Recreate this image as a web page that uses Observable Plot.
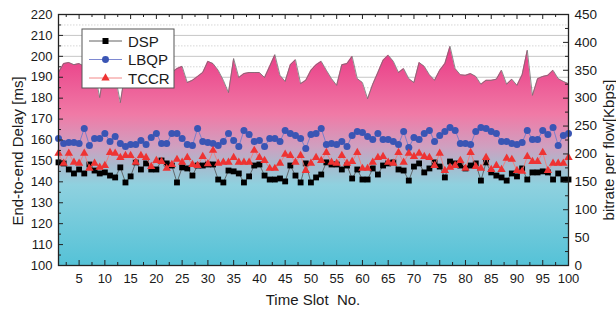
<!DOCTYPE html>
<html><head><meta charset="utf-8">
<script src="https://cdn.jsdelivr.net/npm/d3@7"></script>
<script src="https://cdn.jsdelivr.net/npm/@observablehq/plot@0.6"></script>
<style>
body{margin:0;background:#fff;}
#chart{position:relative;width:616px;height:311px;}
</style></head><body><div id="chart"></div>
<script>
// ---- data ----
const slots = d3.range(1, 101);
const bitrate = [
346,362,364,360,362,357,360,350,301,357,
360,341,292,350,353,357,364,359,362,368,
364,357,346,353,357,328,332,339,346,366,
362,350,332,310,371,337,344,346,346,346,
337,357,378,341,330,360,369,326,332,350,
360,366,350,335,323,360,362,375,335,328,
299,325,346,368,377,366,346,353,335,328,
364,357,342,332,350,362,393,353,342,341,
344,339,325,332,332,334,350,325,334,323,
342,386,305,335,339,341,350,335,330,326];
const dsp = [
149.3,148.8,145.9,144.0,145.9,144.0,148.3,145.4,144.0,144.5,
143.0,142.1,146.9,139.7,142.6,149.3,145.9,148.8,145.9,145.9,
150.2,148.8,147.8,139.7,146.9,146.4,143.0,147.8,147.8,148.3,
148.3,141.1,139.7,145.4,145.0,144.0,139.7,142.6,147.8,148.3,
143.0,141.1,141.1,141.6,140.2,147.8,143.0,139.7,148.8,139.7,
142.1,143.5,149.3,148.3,148.3,145.9,147.8,141.6,145.9,141.1,
141.1,146.4,143.5,147.8,148.8,149.3,145.9,145.4,140.6,147.3,
148.8,144.5,146.4,149.3,147.3,142.1,149.7,148.8,147.8,146.4,
147.8,148.8,140.6,149.3,144.5,143.0,142.1,140.6,144.0,142.6,
146.4,141.1,144.5,144.5,145.0,144.5,141.1,144.0,141.1,141.1];
const lbqp = [
160.7,158.3,158.8,158.8,158.3,165.5,157.4,160.7,160.7,163.1,
159.3,161.7,158.3,156.9,157.9,157.9,159.8,157.9,161.2,163.1,
158.3,158.3,163.1,163.1,160.7,157.9,157.4,165.5,159.3,158.8,
158.3,157.4,159.3,163.1,159.8,156.9,164.6,162.6,159.3,159.8,
156.9,160.7,160.7,159.3,164.6,163.1,162.2,160.7,155.9,162.6,
163.1,165.5,157.9,158.3,157.9,159.3,156.9,162.2,164.1,163.6,
161.7,160.2,163.1,160.2,160.2,159.3,157.9,164.1,156.4,161.2,
160.2,163.1,164.6,159.3,162.2,164.1,166.0,164.6,158.3,158.3,
157.9,164.1,166.0,165.5,164.1,163.1,159.3,159.3,158.3,157.9,
158.8,164.6,160.2,160.2,164.6,162.6,166.0,157.4,162.2,163.1];
const tccr = [
153.6,148.8,153.6,149.3,148.8,153.6,146.4,148.8,146.9,147.8,
154.0,153.6,151.6,152.6,152.6,149.3,152.6,151.6,147.3,150.2,
149.7,146.4,148.3,150.7,149.3,151.6,148.3,147.8,152.1,148.6,
155.0,148.8,149.3,149.3,151.6,149.3,149.3,149.3,155.0,151.6,
150.2,146.4,146.4,148.8,153.1,152.6,149.3,152.6,145.4,148.8,
151.6,150.2,154.0,149.3,148.8,152.6,148.8,149.7,154.0,146.4,
146.4,149.3,151.6,152.1,149.3,148.8,154.0,149.3,153.6,152.1,
153.6,152.1,151.6,147.8,153.6,145.4,146.9,147.8,150.2,146.4,
154.0,147.3,146.4,151.6,145.9,147.8,145.9,151.2,150.7,145.4,
145.0,152.1,149.7,149.7,154.0,145.4,148.8,148.8,148.8,151.6];

const leftTicks = d3.range(100, 221, 10);
const leftMinor = d3.range(105, 220, 10);
const xTicks = d3.range(5, 101, 5);
const xMinor = d3.range(2.5, 100, 5);
const rightTicks = d3.range(0, 451, 50);
const rightMinor = d3.range(25, 450, 50);
const seriesNames = ["DSP", "LBQP", "TCCR"];

// right axis (bitrate 0..450) mapped onto left delay scale (100..220)
const toLeft = v => 100 + v * 120 / 450;

const W = 616, H = 311, mt = 14, mb = 46, ml = 58, mr = 48;
const ph = H - mt - mb, pw = W - ml - mr;

const rows = slots.map((t, i) => ({t, bit: toLeft(bitrate[i]), dsp: dsp[i], lbqp: lbqp[i], tccr: tccr[i]}));
const axisColor = "#222";

const plot = Plot.plot({
  width: W, height: H, marginTop: mt, marginBottom: mb, marginLeft: ml, marginRight: mr,
  style: {fontFamily: "'Liberation Sans', Arial, sans-serif", fontSize: "13px", color: "#1a1a1a", background: "#fff"},
  x: {domain: [1, 100], ticks: xTicks, tickSize: 0, tickPadding: 8, label: null},
  y: {domain: [100, 220], ticks: leftTicks, tickSize: 0, tickPadding: 6, label: null},
  marks: [
    Plot.ruleY(leftMinor, {stroke: "#d6d6d6", strokeDasharray: "1.5,1.5"}),
    Plot.ruleY(leftTicks, {stroke: "#c6c6c6"}),
    Plot.areaY(rows, {x: "t", y1: 100, y2: "bit", fill: "url(#bitgrad)"}),
    Plot.lineY(rows, {x: "t", y: "bit", stroke: "#707070", strokeWidth: 0.8}),
    Plot.lineY(rows, {x: "t", y: "dsp", stroke: "#505050", strokeWidth: 0.8}),
    Plot.dot(rows, {x: "t", y: "dsp", symbol: "square", r: 3.3, fill: "#000"}),
    Plot.lineY(rows, {x: "t", y: "lbqp", stroke: "#6f7ccc", strokeWidth: 0.9}),
    Plot.dot(rows, {x: "t", y: "lbqp", symbol: "circle", r: 3.5, fill: "#3a55b4"}),
    Plot.lineY(rows, {x: "t", y: "tccr", stroke: "#f07a7a", strokeWidth: 0.9}),
    Plot.dot(rows, {x: "t", y: "tccr", symbol: "triangle", r: 3.1, fill: "#ee3333"}),
    // inward ticks
    Plot.tickX(xTicks, {x: d => d, insetTop: ph - 5, stroke: axisColor}),
    Plot.tickX(xMinor, {x: d => d, insetTop: ph - 3, stroke: axisColor}),
    Plot.tickX(xTicks, {x: d => d, insetBottom: ph - 5, stroke: axisColor}),
    Plot.tickX(xMinor, {x: d => d, insetBottom: ph - 3, stroke: axisColor}),
    Plot.tickY(leftTicks, {y: d => d, insetRight: pw - 5, stroke: axisColor}),
    Plot.tickY(leftMinor, {y: d => d, insetRight: pw - 3, stroke: axisColor}),
    Plot.tickY(rightTicks, {y: d => toLeft(d), insetLeft: pw - 5, stroke: axisColor}),
    Plot.tickY(rightMinor, {y: d => toLeft(d), insetLeft: pw - 3, stroke: axisColor}),
    Plot.frame({stroke: axisColor, strokeWidth: 1.3}),
    Plot.text(rightTicks, {y: d => toLeft(d), text: d => String(d), frameAnchor: "right", dx: 6, textAnchor: "start", fontSize: 13.5, fill: "#1a1a1a"})
  ]
});
document.getElementById("chart").appendChild(plot);

const svg = d3.select(plot);
svg.insert("defs", ":first-child").html(`
<linearGradient id="bitgrad" gradientUnits="userSpaceOnUse" x1="0" y1="${mt}" x2="0" y2="${H - mb}">
  <stop offset="0" stop-color="#e62e7e"/>
  <stop offset="0.17" stop-color="#ea4189"/>
  <stop offset="0.40" stop-color="#f07aa6"/>
  <stop offset="0.53" stop-color="#cfa0c0"/>
  <stop offset="0.60" stop-color="#a9b9cd"/>
  <stop offset="0.68" stop-color="#8fd1df"/>
  <stop offset="1" stop-color="#55c2d7"/>
</linearGradient>`);

const fontFam = "'Liberation Sans', Arial, sans-serif";
// axis titles
svg.append("text").attr("transform", "translate(23,151) rotate(-90)")
  .attr("text-anchor", "middle").attr("font-family", fontFam).attr("font-size", 15).attr("fill", "#1a1a1a")
  .text("End-to-end Delay [ms]");
svg.append("text").attr("transform", "translate(614,150) rotate(-90)")
  .attr("text-anchor", "middle").attr("font-family", fontFam).attr("font-size", 15).attr("fill", "#1a1a1a")
  .text("bitrate per flow[Kbps]");
svg.append("text").attr("x", 313).attr("y", 305)
  .attr("text-anchor", "middle").attr("font-family", fontFam).attr("font-size", 15).attr("fill", "#1a1a1a")
  .attr("xml:space", "preserve").style("white-space", "pre")
  .text("Time Slot  No.");

// legend
const lg = svg.append("g").attr("text-anchor", "start");
lg.append("rect").attr("x", 82).attr("y", 29).attr("width", 92).attr("height", 59)
  .attr("fill", "#fff").attr("stroke", "#555").attr("stroke-width", 1);
const lineCols = ["#505050", "#6f7ccc", "#f07a7a"];
const markCols = ["#000", "#3a55b4", "#ee3333"];
const syms = [d3.symbolSquare, d3.symbolCircle, d3.symbolTriangle];
const sizes = [36, 38, 30];
seriesNames.forEach((name, i) => {
  const y = 41 + i * 18.5;
  lg.append("line").attr("x1", 89).attr("x2", 122).attr("y1", y).attr("y2", y)
    .attr("stroke", lineCols[i]).attr("stroke-width", 0.9);
  lg.append("path").attr("transform", `translate(105.5,${y})`)
    .attr("d", d3.symbol(syms[i], sizes[i])()).attr("fill", markCols[i]);
  lg.append("text").attr("x", 128).attr("y", y + 5.5).attr("text-anchor", "start").attr("font-family", fontFam)
    .attr("font-size", 15).attr("fill", "#1a1a1a").text(name);
});
</script>
</body></html>
